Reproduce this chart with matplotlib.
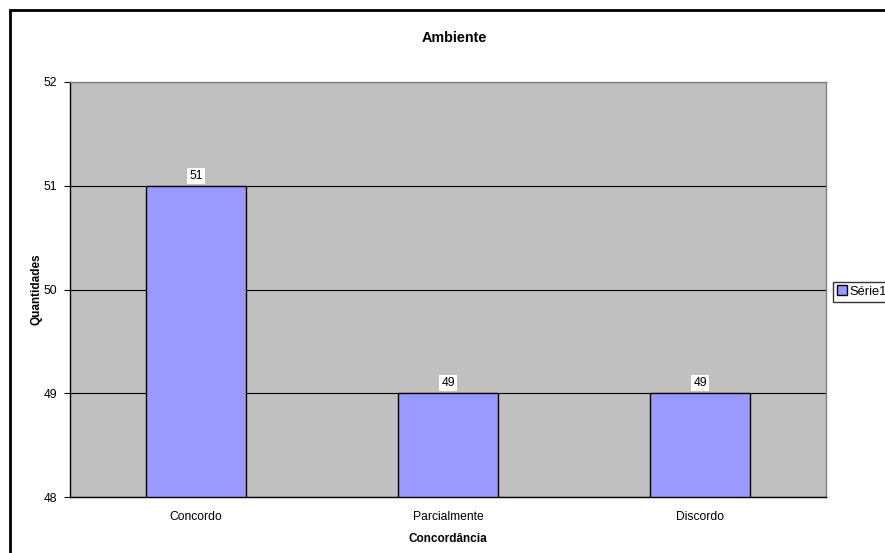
import matplotlib
matplotlib.use("Agg")
from matplotlib import pyplot as plt
from matplotlib.patches import Rectangle

plt.rcParams['font.family'] = ['Liberation Sans', 'DejaVu Sans']

categorias = ['Concordo', 'Parcialmente', 'Discordo']
quantidades = [51, 49, 49]
y_ticks = [48, 49, 50, 51, 52]

fig = plt.figure(figsize=(8.85, 5.53), dpi=100)
ax = fig.add_axes([70 / 885, 1 - 497 / 553, 756 / 885, 415 / 553])
ax.set_facecolor('#C0C0C0')

x = range(len(categorias))
bars = ax.bar(x, [q - 48 for q in quantidades], bottom=48, width=0.4,
              color='#9999FF', edgecolor='black', linewidth=1, zorder=3,
              label='Série1')

for xi, q in zip(x, quantidades):
    ax.text(xi, q + 0.04, str(q), ha='center', va='bottom', fontsize=8.7,
            bbox=dict(facecolor='white', edgecolor='none', pad=1.5), zorder=4)

ax.set_xlim(-0.5, 2.5)
ax.set_ylim(48, 52)
ax.set_yticks(y_ticks)
ax.set_xticks(list(x))
ax.set_xticklabels(categorias)
ax.tick_params(axis='x', length=0, labelsize=8.7, pad=10)
ax.tick_params(axis='y', length=4, direction='out', labelsize=8.7, pad=5)
ax.yaxis.grid(True, color='black', linewidth=0.8, zorder=1)
ax.set_axisbelow(True)

for s in ['top', 'right']:
    ax.spines[s].set_color('#808080')
    ax.spines[s].set_linewidth(1)
for s in ['left', 'bottom']:
    ax.spines[s].set_color('black')
    ax.spines[s].set_linewidth(1)

fig.text(454 / 885, 1 - 38 / 553, 'Ambiente', fontsize=10.4,
         fontweight='bold', ha='center', va='center')
ax.set_xlabel('Concordância', fontsize=8.5, fontweight='bold', labelpad=7)
ax.set_ylabel('Quantidades', fontsize=8.5, fontweight='bold', labelpad=1)

leg = ax.legend(loc='center left', bbox_to_anchor=(763 / 756, 0.495),
                fontsize=9.3, frameon=True, fancybox=False, borderpad=0.3,
                handlelength=0.75, handleheight=0.75, handletextpad=0.2,
                borderaxespad=0)
leg.get_frame().set_edgecolor('black')
leg.get_frame().set_linewidth(1)

# moldura externa do grafico
fig.patches.append(Rectangle((10 / 885, -0.1), 1.0, 1 - 10 / 553 + 0.1,
                             transform=fig.transFigure, fill=False,
                             edgecolor='black', linewidth=2))

fig.savefig('out.png', dpi=100)
